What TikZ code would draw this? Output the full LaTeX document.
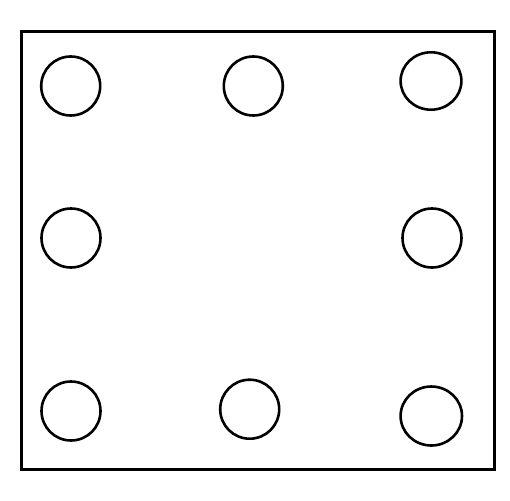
\documentclass[tikz,border=0pt]{standalone}
\usetikzlibrary{shapes.geometric}
\begin{document}
\begin{tikzpicture}[x=1pt,y=-1pt,
  hole/.style={draw=black, line width=2.6pt, ellipse, inner sep=0pt, minimum width=59pt, minimum height=59pt},
  frame/.style={draw=black, line width=3pt}]
\useasboundingbox (0,0) rectangle (510,500);
\node[frame, rectangle, inner sep=0pt, minimum width=473pt, minimum height=437.5pt] (plate) at (257.75,250.25) {};
\node[hole] (c1) at (70.7,86) {};
\node[hole] (c2) at (253.3,86) {};
\node[hole, minimum width=60.8pt, minimum height=57.4pt] (c3) at (431,81) {};
\node[hole] (c4) at (71,238) {};
\node[hole] (c5) at (432,238) {};
\node[hole] (c6) at (71,411) {};
\node[hole] (c7) at (249.7,409.2) {};
\node[hole, minimum width=61.4pt, minimum height=59pt] (c8) at (431.3,416) {};
\end{tikzpicture}
\end{document}
